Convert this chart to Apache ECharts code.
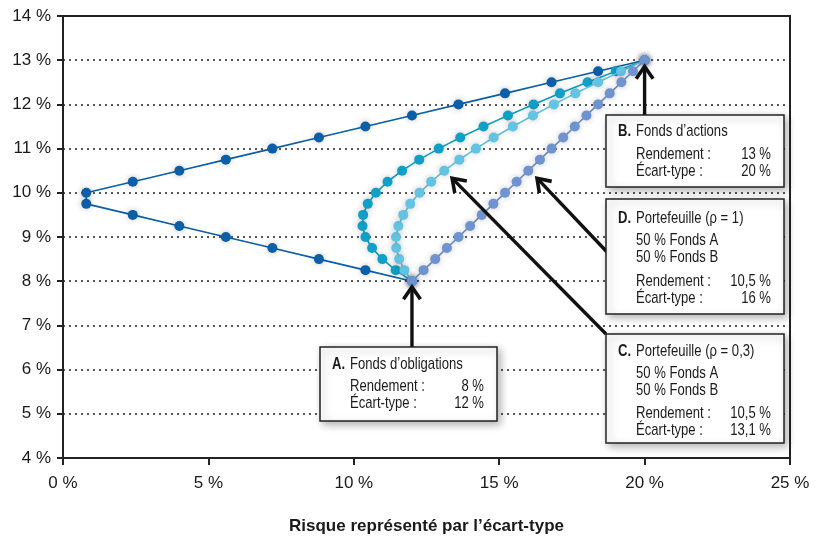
<!DOCTYPE html>
<html><head><meta charset="utf-8">
<script src="https://cdn.jsdelivr.net/npm/echarts@6/dist/echarts.min.js"></script>
<style>html,body{margin:0;padding:0;background:#fff}#c{width:819px;height:541px}</style>
</head><body><div id="c"></div>
<script>
// Risk (x, %) and return (y, %) for each portfolio curve
const rhoMinus1 = [[12,8],[10.4,8.25],[8.8,8.5],[7.2,8.75],[5.6,9],[4.0,9.25],[2.4,9.5],[0.8,9.75],[0.8,10],[2.4,10.25],[4.0,10.5],[5.6,10.75],[7.2,11],[8.8,11.25],[10.4,11.5],[12,11.75],[13.6,12],[15.2,12.25],[16.8,12.5],[18.4,12.75],[20,13]];
const rho0 = [[12,8],[11.44,8.25],[10.98,8.5],[10.63,8.75],[10.40,9],[10.30,9.25],[10.32,9.5],[10.48,9.75],[10.76,10],[11.16,10.25],[11.66,10.5],[12.25,10.75],[12.92,11],[13.66,11.25],[14.46,11.5],[15.30,11.75],[16.18,12],[17.09,12.25],[18.04,12.5],[19.01,12.75],[20,13]];
const rho03 = [[12,8],[11.74,8.25],[11.56,8.5],[11.46,8.75],[11.45,9],[11.53,9.25],[11.70,9.5],[11.94,9.75],[12.26,10],[12.66,10.25],[13.11,10.5],[13.63,10.75],[14.20,11],[14.81,11.25],[15.47,11.5],[16.16,11.75],[16.88,12],[17.62,12.25],[18.40,12.5],[19.19,12.75],[20,13]];
const rho1 = [[12,8],[12.4,8.25],[12.8,8.5],[13.2,8.75],[13.6,9],[14.0,9.25],[14.4,9.5],[14.8,9.75],[15.2,10],[15.6,10.25],[16.0,10.5],[16.4,10.75],[16.8,11],[17.2,11.25],[17.6,11.5],[18.0,11.75],[18.4,12],[18.8,12.25],[19.2,12.5],[19.6,12.75],[20,13]];
const xTicks = [0,5,10,15,20,25];
const yTicks = [4,5,6,7,8,9,10,11,12,13,14];
const xTitle = "Risque représenté par l’écart-type";

const FONT = "'Liberation Sans',Arial,sans-serif";
const chart = echarts.init(document.getElementById('c'));

function ser(data, color, z) {
  return {
    type: 'line', data: data, z: z, symbol: 'circle', symbolSize: 10,
    lineStyle: {color: color, width: 1.6},
    itemStyle: {color: color, shadowBlur: 6, shadowColor: 'rgba(0,0,0,0.25)'},
    emphasis: {disabled: true}, animation: false
  };
}

chart.setOption({
  animation: false,
  grid: {left: 63, right: 29, top: 16, bottom: 83, show: true, borderColor: '#222', borderWidth: 2, backgroundColor: 'transparent'},
  xAxis: {
    type: 'value', min: 0, max: 25, interval: 5,
    axisLine: {lineStyle: {color: '#222', width: 2}},
    axisTick: {show: true, inside: false, length: 7, lineStyle: {color: '#222', width: 2}},
    axisLabel: {fontFamily: FONT, fontSize: 17, color: '#1a1a1a', margin: 17, formatter: v => v + ' %'},
    splitLine: {show: false},
    name: xTitle, nameLocation: 'middle', nameGap: 60,
    nameTextStyle: {fontFamily: FONT, fontSize: 17, fontWeight: 'bold', color: '#1a1a1a'}
  },
  yAxis: {
    type: 'value', min: 4, max: 14, interval: 1,
    axisLine: {show: true, lineStyle: {color: '#222', width: 2}},
    axisTick: {show: true, inside: false, length: 6, lineStyle: {color: '#222', width: 2}},
    axisLabel: {fontFamily: FONT, fontSize: 17, color: '#1a1a1a', margin: 12, formatter: v => v + ' %'},
    splitLine: {show: true, lineStyle: {color: '#222', width: 1.5, type: [2, 4]}}
  },
  series: [
    ser(rhoMinus1, '#0b5ea8', 2),
    ser(rho0, '#0fa0c8', 3),
    ser(rho03, '#62c3e2', 4),
    ser(rho1, '#6f93cf', 5)
  ]
});

function P(x, y) { return chart.convertToPixel({gridIndex: 0}, [x, y]); }

function arrow(from, tip) {
  const dx = tip[0] - from[0], dy = tip[1] - from[1];
  const L = Math.hypot(dx, dy), ux = dx / L, uy = dy / L;
  const h = 15, a = 0.6;
  const c = Math.cos(a), s = Math.sin(a);
  const w1 = [tip[0] - h * (ux * c - uy * s), tip[1] - h * (uy * c + ux * s)];
  const w2 = [tip[0] - h * (ux * c + uy * s), tip[1] - h * (uy * c - ux * s)];
  return [
    {type: 'polyline', z: 20, shape: {points: [from, [tip[0] - ux * 2, tip[1] - uy * 2]]}, style: {stroke: '#111', lineWidth: 3.4, fill: null}},
    {type: 'polyline', z: 20, shape: {points: [w1, tip, w2]}, style: {stroke: '#111', lineWidth: 3.6, fill: null, lineJoin: 'miter'}}
  ];
}

const SX = 0.77;
function txt(x, y, text, extra) {
  return {type: 'text', z: 31, x: x, y: y, scaleX: SX,
    style: Object.assign({x: 0, y: 0, text: text, fontFamily: FONT, fontSize: 17, fill: '#1a1a1a', verticalAlign: 'middle'}, extra || {})};
}

function box(x, y, w, h, rows, labelX, valRight) {
  const els = [{type: 'rect', z: 30, shape: {x: x, y: y, width: w, height: h},
    style: {fill: '#fff', stroke: '#222', lineWidth: 1.5, shadowBlur: 8, shadowOffsetX: 3, shadowOffsetY: 3, shadowColor: 'rgba(0,0,0,0.3)'}}];
  rows.forEach(r => {
    if (r.head) {
      els.push(txt(x + 12, r.y, r.head, {fontWeight: 'bold'}));
      els.push(txt(x + 12 + r.off, r.y, r.text));
    } else {
      els.push(txt(labelX, r.y, r.text));
      if (r.val) els.push(txt(valRight, r.y, r.val, {align: 'right'}));
    }
  });
  return els;
}

const g = [];
g.push(...arrow([P(12, 8)[0], 347], P(12, 7.87)));
g.push(...arrow([P(20, 13)[0], 115], P(20, 12.86)));
g.push(...arrow([607, 252], P(16.3, 10.33)));
g.push(...arrow([606, 334], P(13.38, 10.33)));

g.push(...box(320, 347, 177, 74, [
  {head: 'A.', off: 18, text: 'Fonds d’obligations', y: 364},
  {text: 'Rendement :', val: '8 %', y: 386},
  {text: 'Écart-type :', val: '12 %', y: 403}
], 350, 484));
g.push(...box(606, 115, 178, 72, [
  {head: 'B.', off: 18, text: 'Fonds d’actions', y: 131},
  {text: 'Rendement :', val: '13 %', y: 154},
  {text: 'Écart-type :', val: '20 %', y: 171}
], 636, 771));
g.push(...box(606, 199, 178, 115, [
  {head: 'D.', off: 18, text: 'Portefeuille (ρ = 1)', y: 218},
  {text: '50 % Fonds A', y: 240},
  {text: '50 % Fonds B', y: 257},
  {text: 'Rendement :', val: '10,5 %', y: 281},
  {text: 'Écart-type :', val: '16 %', y: 298}
], 636, 771));
g.push(...box(606, 334, 178, 109, [
  {head: 'C.', off: 18, text: 'Portefeuille (ρ = 0,3)', y: 351},
  {text: '50 % Fonds A', y: 373},
  {text: '50 % Fonds B', y: 390},
  {text: 'Rendement :', val: '10,5 %', y: 413},
  {text: 'Écart-type :', val: '13,1 %', y: 430}
], 636, 771));

chart.setOption({graphic: {elements: g}});
</script></body></html>
